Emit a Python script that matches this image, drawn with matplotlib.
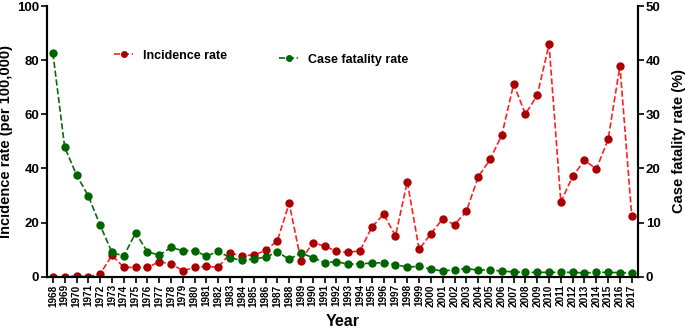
import matplotlib.pyplot as plt

years = list(range(1968, 2018))

incidence = [0, 0, 0.3, 0, 1.0, 7.9, 3.5, 3.4, 3.4, 5.5,
             4.8, 2.2, 3.4, 3.8, 3.5, 8.6, 7.8, 8.0, 9.7, 13.3,
             27.1, 5.9, 12.6, 11.3, 9.4, 9.0, 9.6, 18.3, 23.1, 15.1,
             35.1, 10.1, 15.9, 21.4, 19.2, 24.2, 36.8, 43.3, 52.3, 71.1,
             60.1, 67.0, 85.8, 27.6, 37.1, 43.0, 39.8, 50.7, 77.9, 22.4]

fatality = [41.3, 23.9, 18.8, 14.9, 9.5, 4.5, 3.8, 8.1, 4.6, 4.0,
            5.4, 4.8, 4.8, 3.8, 4.7, 3.5, 3.0, 3.3, 3.6, 4.6,
            3.2, 4.4, 3.5, 2.6, 2.8, 2.3, 2.4, 2.5, 2.6, 2.2,
            1.8, 1.9, 1.4, 1.05, 1.3, 1.5, 1.2, 1.3, 1.0, 0.9,
            0.8, 0.8, 0.8, 0.8, 0.8, 0.7, 0.8, 0.8, 0.75, 0.7]

plt.rcParams['font.family'] = ['Liberation Sans', 'DejaVu Sans']
plt.rcParams['font.weight'] = 'bold'

fig = plt.figure(figsize=(6.85, 3.28), dpi=100)
ax = fig.add_axes([0.0686, 0.1564, 0.8628, 0.8253])
ax2 = ax.twinx()

ax.plot(years, incidence, linestyle='--', color='#ff2020', lw=1.2,
        marker='o', ms=5, mfc='#a80000', mec='#a80000', label='Incidence rate')
ax2.plot(years, fatality, linestyle='--', color='#0a6a0a', lw=1.2,
         marker='o', ms=5, mfc='#006400', mec='#006400', label='Case fatality rate')

ax.set_xlim(1967.5, 2017.53)
ax.set_ylim(0, 100)
ax2.set_ylim(0, 50)
ax.set_yticks([0, 20, 40, 60, 80, 100])
ax2.set_yticks([0, 10, 20, 30, 40, 50])
ax.set_xticks(years)
ax.set_xticklabels([str(y) for y in years], rotation=90, fontsize=7.2, fontweight='bold')

for a in (ax, ax2):
    a.spines['top'].set_visible(False)
    for s in ('left', 'right', 'bottom'):
        a.spines[s].set_linewidth(1.5)
    a.tick_params(axis='y', width=1.2, length=4, labelsize=9.5, pad=1.5)
ax.tick_params(axis='x', width=1.2, length=4, pad=1.5)

ax.set_xlabel('Year', fontsize=11.5, fontweight='bold', labelpad=5)
ax.set_ylabel('Incidence rate (per 100,000)', fontsize=10.5, fontweight='bold', labelpad=3)
ax2.set_ylabel('Case fatality rate (%)', fontsize=10.5, fontweight='bold', labelpad=8)

ax.legend(loc='upper left', bbox_to_anchor=(0.095, 0.88), frameon=False,
          handlelength=1.5, fontsize=9, markerscale=0.8)
ax2.legend(loc='upper left', bbox_to_anchor=(0.374, 0.865), frameon=False,
           handlelength=1.5, fontsize=9, markerscale=0.8)

fig.savefig('out.png', dpi=100)
